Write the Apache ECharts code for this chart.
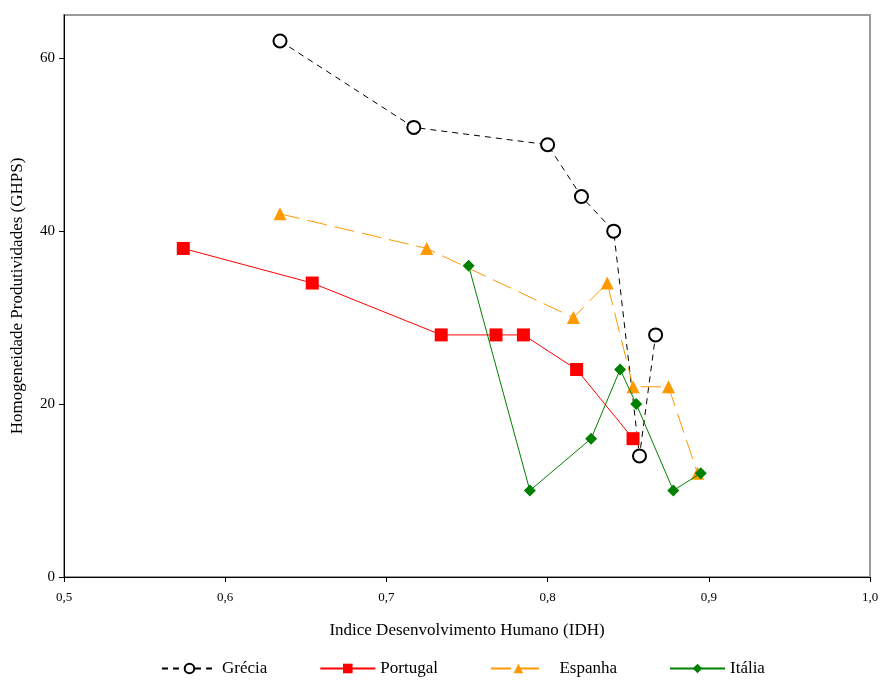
<!DOCTYPE html>
<html><head><meta charset="utf-8">
<script src="https://cdn.jsdelivr.net/npm/echarts@6/dist/echarts.min.js"></script>
<style>html,body{margin:0;padding:0;background:#fff}#c{width:882px;height:680px}</style>
</head><body><div id="c"></div>
<script>
const seriesNames = ['Grécia', 'Portugal', 'Espanha', 'Itália'];
const greciaIDH = [0.634, 0.717, 0.800, 0.821, 0.841, 0.857, 0.867];
const greciaGHPS = [62, 52, 50, 44, 40, 14, 28];
const portugalIDH = [0.574, 0.654, 0.734, 0.768, 0.785, 0.818, 0.853];
const portugalGHPS = [38, 34, 28, 28, 28, 24, 16];
const espanhaIDH = [0.634, 0.725, 0.816, 0.837, 0.853, 0.875, 0.893];
const espanhaGHPS = [42, 38, 30, 34, 22, 22, 12];
const italiaIDH = [0.751, 0.789, 0.827, 0.845, 0.855, 0.878, 0.895];
const italiaGHPS = [36, 10, 16, 24, 20, 10, 12];
const xTicks = [0.5, 0.6, 0.7, 0.8, 0.9, 1.0];
const yTicks = [0, 20, 40, 60];

const zip = (a, b) => a.map((v, i) => [v, b[i]]);
const font = '"Liberation Serif", "Times New Roman", serif';

const chart = echarts.init(document.getElementById('c'), null, {renderer: 'canvas'});
chart.setOption({
  animation: false,
  backgroundColor: '#fff',
  textStyle: {fontFamily: font},
  grid: {left: 64, right: 12, top: 15, bottom: 103, show: true, borderColor: '#9a9a9a', borderWidth: 2, backgroundColor: 'transparent'},
  legend: {
    top: 655, left: 156, itemWidth: 55, itemHeight: 12, itemGap: 52,
    textStyle: {fontFamily: font, fontSize: 17, color: '#000'},
    formatter: name => name === 'Espanha' ? '  ' + name : name,
    data: seriesNames
  },
  xAxis: {
    type: 'value', min: 0.5, max: 1.0, interval: 0.1,
    name: 'Indice Desenvolvimento Humano (IDH)', nameLocation: 'middle', nameGap: 45,
    nameTextStyle: {fontFamily: font, fontSize: 17, color: '#000'},
    axisLine: {show: true, lineStyle: {color: '#000', width: 1}},
    axisTick: {show: true, length: 5, lineStyle: {color: '#000'}, customValues: xTicks},
    axisLabel: {fontFamily: font, fontSize: 13, color: '#000', margin: 14, customValues: xTicks,
      formatter: v => v.toFixed(1).replace('.', ',')},
    splitLine: {show: false}
  },
  yAxis: {
    type: 'value', min: 0, max: 65, interval: 20,
    name: 'Homogeneidade Produtividades (GHPS)', nameLocation: 'middle', nameGap: 38,
    nameTextStyle: {fontFamily: font, fontSize: 17, color: '#000'},
    axisLine: {show: true, lineStyle: {color: '#000', width: 1}},
    axisTick: {show: true, length: 5, lineStyle: {color: '#000'}, customValues: yTicks},
    axisLabel: {fontFamily: font, fontSize: 15, color: '#000', margin: 9, customValues: yTicks},
    splitLine: {show: false}
  },
  series: [
    {name: seriesNames[0], type: 'line', data: zip(greciaIDH, greciaGHPS),
     symbol: 'circle', symbolSize: 13, z: 2,
     itemStyle: {color: '#fff', borderColor: '#000', borderWidth: 2},
     lineStyle: {color: '#000', width: 1, type: [6, 5]}},
    {name: seriesNames[1], type: 'line', data: zip(portugalIDH, portugalGHPS),
     symbol: 'rect', symbolSize: 13, z: 3,
     itemStyle: {color: '#ff0000', borderColor: '#ff0000', borderWidth: 0},
     lineStyle: {color: '#ff0000', width: 1}},
    {name: seriesNames[2], type: 'line', data: zip(espanhaIDH, espanhaGHPS),
     symbol: 'triangle', symbolSize: 13, z: 4,
     itemStyle: {color: '#ff9900', borderWidth: 0},
     lineStyle: {color: '#ff9900', width: 1, type: [20, 8]}},
    {name: seriesNames[3], type: 'line', data: zip(italiaIDH, italiaGHPS),
     symbol: 'diamond', symbolSize: 12, z: 5,
     itemStyle: {color: '#008000', borderWidth: 0},
     lineStyle: {color: '#008000', width: 1}}
  ]
});
</script>
</body></html>
